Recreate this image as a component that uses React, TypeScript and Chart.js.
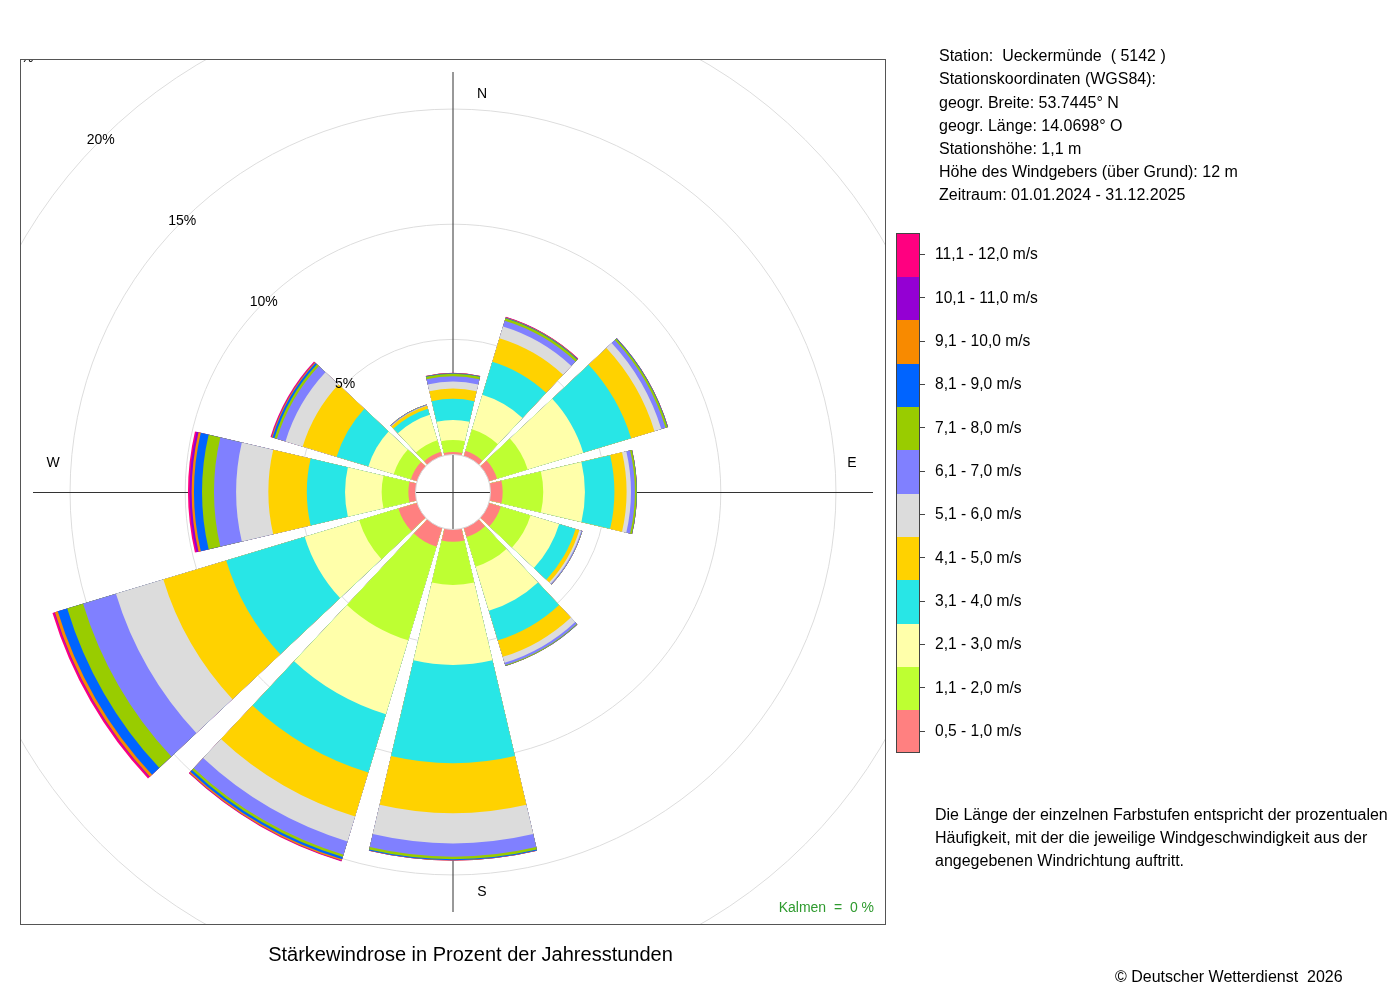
import React, { useEffect, useRef } from 'react';
import { Chart, registerables } from 'chart.js';

Chart.register(...registerables);

// ---------- DATA ----------
// Directions (sector centres 0°, 30°, ... 330°)
const DIRECTIONS = ['N', 'NNE', 'ENE', 'E', 'ESE', 'SSE', 'S', 'SSW', 'WSW', 'W', 'WNW', 'NNW'];

// Frequency in % of year hours, per speed class, per direction (same order as DIRECTIONS)
const V_05_10 = [0.11, 0.24, 0.37, 0.53, 0.54, 0.41, 0.53, 0.85, 0.85, 0.31, 0.28, 0.20];
const V_11_20 = [0.52, 0.98, 1.39, 1.76, 1.35, 1.35, 1.88, 4.25, 1.78, 1.16, 0.78, 0.52];
const V_21_30 = [0.87, 1.56, 2.52, 1.81, 1.30, 2.00, 3.47, 3.35, 2.47, 1.59, 1.15, 1.15];
const V_31_40 = [0.92, 1.50, 2.17, 1.28, 0.74, 1.34, 4.27, 2.64, 3.56, 1.66, 1.44, 0.28];
const V_41_50 = [0.45, 1.07, 1.06, 0.53, 0.17, 0.75, 2.17, 2.00, 2.85, 1.67, 1.54, 0.13];
const V_51_60 = [0.30, 0.53, 0.31, 0.19, 0.09, 0.27, 1.31, 1.13, 2.15, 1.40, 0.78, 0.02];
const V_61_70 = [0.23, 0.26, 0.19, 0.17, 0.04, 0.10, 0.58, 0.60, 1.49, 0.96, 0.39, 0.03];
const V_71_80 = [0.11, 0.11, 0.09, 0.08, 0.01, 0.03, 0.11, 0.11, 0.72, 0.52, 0.11, 0.01];
const V_81_90 = [0.02, 0.03, 0.02, 0.01, 0.00, 0.01, 0.04, 0.10, 0.43, 0.35, 0.09, 0.00];
const V_91_100 = [0.01, 0.02, 0.01, 0.00, 0.00, 0.00, 0.01, 0.06, 0.13, 0.10, 0.04, 0.00];
const V_101_110 = [0.00, 0.01, 0.00, 0.00, 0.00, 0.00, 0.00, 0.02, 0.03, 0.09, 0.02, 0.00];
const V_111_120 = [0.01, 0.01, 0.00, 0.00, 0.00, 0.00, 0.00, 0.02, 0.08, 0.07, 0.03, 0.00];

const CLASS_LABELS = [
  '0,5 - 1,0 m/s', '1,1 - 2,0 m/s', '2,1 - 3,0 m/s', '3,1 - 4,0 m/s',
  '4,1 - 5,0 m/s', '5,1 - 6,0 m/s', '6,1 - 7,0 m/s', '7,1 - 8,0 m/s',
  '8,1 - 9,0 m/s', '9,1 - 10,0 m/s', '10,1 - 11,0 m/s', '11,1 - 12,0 m/s',
];
const SPEED_CLASSES = [V_05_10, V_11_20, V_21_30, V_31_40, V_41_50, V_51_60, V_61_70, V_71_80, V_81_90, V_91_100, V_101_110, V_111_120];

const RING_TICKS = [5, 10, 15, 20, 25];
const KALMEN = 0;

const STATION_LINES = [
  'Station:  Ueckermünde  ( 5142 )',
  'Stationskoordinaten (WGS84):',
  'geogr. Breite: 53.7445° N',
  'geogr. Länge: 14.0698° O',
  'Stationshöhe: 1,1 m',
  'Höhe des Windgebers (über Grund): 12 m',
  'Zeitraum: 01.01.2024 - 31.12.2025',
];
const NOTE_LINES = [
  'Die Länge der einzelnen Farbstufen entspricht der prozentualen',
  'Häufigkeit, mit der die jeweilige Windgeschwindigkeit aus der',
  'angegebenen Windrichtung auftritt.',
];
const TITLE = 'Stärkewindrose in Prozent der Jahresstunden';
const COPYRIGHT = '© Deutscher Wetterdienst  2026';

// ---------- STYLE ----------
const CLASS_COLORS = [
  '#FF8080', '#BEFF32', '#FFFFAA', '#28E6E6', '#FFD200', '#DCDCDC',
  '#8080FF', '#99CC00', '#0064FF', '#F88A00', '#9400D3', '#FF0080',
];
const FONT = '"Liberation Sans", Arial, Helvetica, sans-serif';
const CX = 453;
const CY = 492;
const DRAW_R = 450;
const PX_PER_PCT = 23.03;
const HOLE_PX = 37.5;
const SECTOR_ANGLE = 26.4;
const GAP_ANGLE = 30 - SECTOR_ANGLE;
const FRAME_HALF = 433;
const AXIS_LEN = 420;

const R_MIN = -HOLE_PX / PX_PER_PCT;
const R_MAX = R_MIN + DRAW_R / PX_PER_PCT;

const decorPlugin = {
  id: 'roseDecor',
  beforeDatasetsDraw(chart: any) {
    const ctx = chart.ctx;
    const sc = chart.scales.r;
    const cx = sc.xCenter;
    const cy = sc.yCenter;
    ctx.save();
    ctx.beginPath();
    ctx.rect(cx - FRAME_HALF, cy - FRAME_HALF, 2 * FRAME_HALF, 2 * FRAME_HALF);
    ctx.clip();
    ctx.strokeStyle = '#dddddd';
    ctx.lineWidth = 1;
    for (const v of RING_TICKS) {
      const rr = sc.getDistanceFromCenterForValue(v);
      ctx.beginPath();
      ctx.arc(cx, cy, rr, 0, Math.PI * 2);
      ctx.stroke();
    }
    ctx.strokeStyle = '#333333';
    ctx.beginPath();
    ctx.moveTo(cx - AXIS_LEN, cy + 0.5);
    ctx.lineTo(cx + AXIS_LEN, cy + 0.5);
    ctx.stroke();
    ctx.beginPath();
    ctx.moveTo(cx, cy - AXIS_LEN);
    ctx.lineTo(cx, cy + AXIS_LEN);
    ctx.stroke();
    ctx.restore();
  },
  afterDatasetsDraw(chart: any) {
    const ctx = chart.ctx;
    const sc = chart.scales.r;
    const cx = sc.xCenter;
    const cy = sc.yCenter;
    const hr = sc.getDistanceFromCenterForValue(0);
    ctx.save();
    // central hole
    ctx.beginPath();
    ctx.arc(cx, cy, hr, 0, Math.PI * 2);
    ctx.fillStyle = '#ffffff';
    ctx.fill();
    ctx.strokeStyle = '#d4d4d4';
    ctx.lineWidth = 1;
    ctx.stroke();
    ctx.save();
    ctx.beginPath();
    ctx.arc(cx, cy, hr - 0.5, 0, Math.PI * 2);
    ctx.clip();
    ctx.strokeStyle = '#333333';
    ctx.beginPath();
    ctx.moveTo(cx - hr, cy + 0.5);
    ctx.lineTo(cx + hr, cy + 0.5);
    ctx.stroke();
    ctx.beginPath();
    ctx.moveTo(cx, cy - hr);
    ctx.lineTo(cx, cy + hr);
    ctx.stroke();
    ctx.restore();

    // frame + clipped labels
    ctx.beginPath();
    ctx.rect(cx - FRAME_HALF, cy - FRAME_HALF, 2 * FRAME_HALF, 2 * FRAME_HALF);
    ctx.clip();
    ctx.fillStyle = '#000000';
    ctx.font = '14px ' + FONT;
    ctx.textAlign = 'center';
    ctx.textBaseline = 'middle';
    for (const v of RING_TICKS) {
      const rr = sc.getDistanceFromCenterForValue(v);
      ctx.fillText(v + '%', cx - rr * Math.SQRT1_2, cy - rr * Math.SQRT1_2);
    }
    ctx.fillText('N', cx + 29, cy - 398);
    ctx.fillText('S', cx + 29, cy + 400);
    ctx.fillText('W', cx - 400, cy - 29);
    ctx.fillText('E', cx + 399, cy - 29);
    ctx.fillStyle = '#2E9A2E';
    ctx.textAlign = 'right';
    ctx.fillText('Kalmen  =  ' + KALMEN + ' %', cx + 421, cy + 416);
    ctx.restore();

    ctx.save();
    ctx.strokeStyle = '#555555';
    ctx.lineWidth = 1;
    ctx.strokeRect(cx - FRAME_HALF + 0.5, cy - FRAME_HALF + 0.5, 2 * FRAME_HALF - 1, 2 * FRAME_HALF - 1);
    ctx.restore();
  },
};

function buildConfig(): any {
  const labels: string[] = [];
  const angles: number[] = [];
  DIRECTIONS.forEach((d) => {
    labels.push(d, '');
    angles.push(SECTOR_ANGLE, GAP_ANGLE);
  });
  const cumulative: number[][] = [];
  SPEED_CLASSES.forEach((cls, k) => {
    cumulative.push(cls.map((v, i) => (k === 0 ? 0 : cumulative[k - 1][i]) + v));
  });
  const datasets = cumulative.map((cum, k) => ({
    label: CLASS_LABELS[k],
    data: cum.flatMap((v) => [v, 0]),
    backgroundColor: cum.flatMap(() => [CLASS_COLORS[k], 'rgba(0,0,0,0)']),
    angle: angles,
    borderWidth: 0,
  }));
  return {
    type: 'polarArea',
    data: { labels, datasets },
    options: {
      responsive: false,
      animation: false,
      events: [],
      layout: {
        padding: {
          left: CX - DRAW_R,
          right: 1400 - CX - DRAW_R,
          top: CY - DRAW_R,
          bottom: 1000 - CY - DRAW_R,
        },
      },
      scales: {
        r: {
          type: 'radialLinear',
          min: R_MIN,
          max: R_MAX,
          startAngle: -SECTOR_ANGLE / 2,
          grid: { display: false },
          angleLines: { display: false },
          pointLabels: { display: false },
          ticks: { display: false, stepSize: 5 },
        },
      },
      plugins: {
        legend: { display: false },
        tooltip: { enabled: false },
        title: { display: false },
      },
    },
    plugins: [decorPlugin],
  };
}

const textBase: React.CSSProperties = {
  position: 'absolute',
  fontFamily: FONT,
  color: '#000',
  whiteSpace: 'pre',
};

export default function App() {
  const ref = useRef<HTMLCanvasElement>(null);
  useEffect(() => {
    if (!ref.current) return;
    const chart = new Chart(ref.current, buildConfig());
    return () => chart.destroy();
  }, []);

  const cellH = 520 / CLASS_LABELS.length;
  const legendTop = 232.7;
  const order = CLASS_LABELS.map((_, i) => CLASS_LABELS.length - 1 - i);

  return (
    <div style={{ position: 'absolute', left: 0, top: 0, width: 1400, height: 1000, background: '#fff', overflow: 'hidden' }}>
      <canvas ref={ref} width={1400} height={1000} style={{ position: 'absolute', left: 0, top: 0, width: 1400, height: 1000 }} />
      <div style={{ ...textBase, left: 939, top: 44.2, fontSize: 16, lineHeight: '23.2px' }}>
        {STATION_LINES.map((l, i) => (
          <div key={i}>{l}</div>
        ))}
      </div>
      <div style={{ position: 'absolute', left: 896, top: legendTop, width: 24, height: 520, border: '1px solid #444', boxSizing: 'border-box', overflow: 'hidden' }}>
        {order.map((k) => (
          <div key={k} style={{ height: cellH, background: CLASS_COLORS[k] }} />
        ))}
      </div>
      {order.map((k, j) => (
        <React.Fragment key={k}>
          <div style={{ position: 'absolute', left: 920, top: legendTop + cellH * (j + 0.5) - 0.5, width: 5, height: 1, background: '#444' }} />
          <div style={{ ...textBase, left: 935, top: legendTop + cellH * (j + 0.5) - 12, fontSize: 15.6, lineHeight: '24px' }}>
            {CLASS_LABELS[k]}
          </div>
        </React.Fragment>
      ))}
      <div style={{ ...textBase, left: 935, top: 814 - 11.5, fontSize: 16, lineHeight: '23px' }}>
        {NOTE_LINES.map((l, i) => (
          <div key={i}>{l}</div>
        ))}
      </div>
      <div style={{ ...textBase, left: 0, width: 941, top: 954 - 13, fontSize: 20, lineHeight: '26px', textAlign: 'center' }}>
        {TITLE}
      </div>
      <div style={{ ...textBase, left: 1115, top: 976 - 11.5, fontSize: 16, lineHeight: '23px' }}>
        {COPYRIGHT}
      </div>
    </div>
  );
}
